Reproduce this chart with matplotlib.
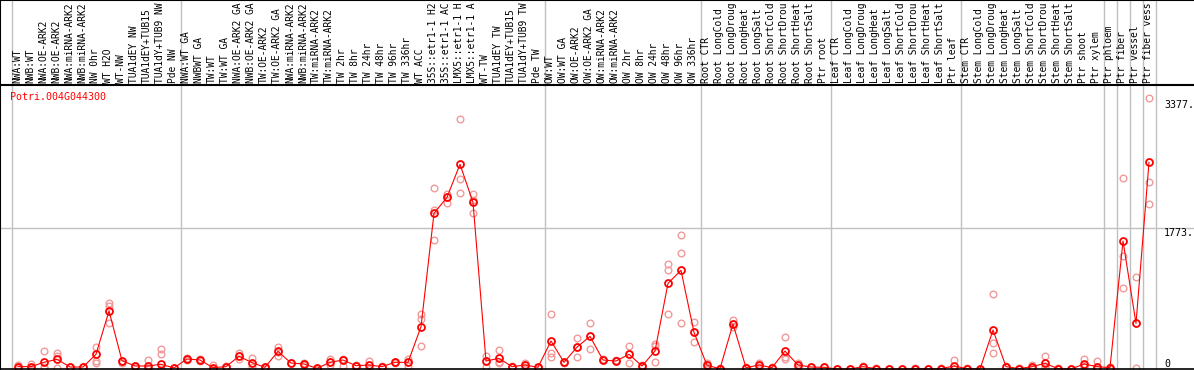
import matplotlib
matplotlib.use("Agg")
import matplotlib.pyplot as plt
import matplotlib.transforms as mtransforms

# categories (one per column), as far as they show in the label strip
labels = [
    "NWA:WT", "NWB:WT", "NWA:OE-ARK2", "NWB:OE-ARK2", "NWA:miRNA-ARK2", "NWB:miRNA-ARK2",
    "NW 0hr", "WT H2O", "WT-NW", "TUA1dEY NW", "TUA1dEY+TUB15", "TUA1dY+TUB9 NW", "Pde NW",
    "NWA:WT GA", "NWBWT GA", "TW:WT", "TW:WT GA", "NWA:OE-ARK2 GA", "NWB:OE-ARK2 GA",
    "TW:OE-ARK2", "TW:OE-ARK2 GA", "NWA:miRNA-ARK2", "NWB:miRNA-ARK2", "TW:miRNA-ARK2",
    "TW:miRNA-ARK2", "TW 2hr", "TW 8hr", "TW 24hr", "TW 48hr", "TW 96hr", "TW 336hr",
    "WT ACC", "35S::etr1-1 H2", "35S::etr1-1 AC", "LMX5::etr1-1 H", "LMX5::etr1-1 A",
    "WT-TW", "TUA1dEY TW", "TUA1dEY+TUB15", "TUA1dY+TUB9 TW", "Pde TW",
    "OW:WT", "OW:WT GA", "OW:OE-ARK2", "OW:OE-ARK2 GA", "OW:miRNA-ARK2", "OW:miRNA-ARK2",
    "OW 2hr", "OW 8hr", "OW 24hr", "OW 48hr", "OW 96hr", "OW 336hr",
    "Root CTR", "Root LongCold", "Root LongDroug", "Root LongHeat", "Root LongSalt",
    "Root ShortCold", "Root ShortDrou", "Root ShortHeat", "Root ShortSalt", "Ptr root",
    "Leaf CTR", "Leaf LongCold", "Leaf LongDroug", "Leaf LongHeat", "Leaf LongSalt",
    "Leaf ShortCold", "Leaf ShortDrou", "Leaf ShortHeat", "Leaf ShortSalt", "Ptr leaf",
    "Stem CTR", "Stem LongCold", "Stem LongDroug", "Stem LongHeat", "Stem LongSalt",
    "Stem ShortCold", "Stem ShortDrou", "Stem ShortHeat", "Stem ShortSalt", "Ptr shoot",
    "Ptr xylem", "Ptr phloem", "Ptr fiber", "Ptr vessel", "Ptr fiber vess",
]

# mean expression per column
means = [
    30, 30, 84, 122, 25, 25, 185, 730, 105, 38, 38, 59, 13,
    126, 113, 17, 30, 160, 80, 21, 222, 75, 63, 8, 84, 113, 42, 50, 30, 84, 84,
    532, 1958, 2159, 2574, 2096, 100, 134, 30, 50, 21,
    352, 84, 275, 410, 113, 100, 185, 38, 226, 1077, 1241, 461,
    46, 4, 566, 17, 50, 17, 226, 50, 25, 21,
    0, 0, 30, 4, 0, 0, 4, 0, 4, 38,
    4, 0, 490, 30, 4, 30, 71, 4, 0, 63,
    30, 17, 1609, 574, 2597,
]

# replicate values per column
replicates = [
    [55, 20, 15], [63, 20, 10], [222, 10, 20], [197, 10, 160], [25, 20, 30], [25, 20, 30],
    [273, 105, 80], [826, 792, 574], [105, 100, 70], [38, 30, 40], [113, 10, 0],
    [248, 185, 5], [13, 10, 15], [140, 120, 115], [125, 110, 100], [50, 5, 0],
    [30, 25, 35], [197, 160, 130], [134, 80, 30], [21, 15, 25], [273, 163, 220],
    [80, 70, 75], [63, 55, 70], [8, 5, 10], [122, 84, 50], [130, 113, 40], [42, 40, 45],
    [100, 50, 5], [30, 25, 35], [84, 80, 90], [122, 84, 40], [692, 625, 293],
    [2272, 1999, 1622], [2200, 2083, 2160], [3140, 2385, 2209], [2200, 2130, 1958],
    [163, 30, 100], [239, 80, 90], [30, 25, 35], [75, 50, 30], [21, 15, 25],
    [692, 155, 200], [84, 80, 90], [386, 155, 280], [574, 248, 410], [113, 110, 120],
    [110, 100, 95], [289, 71, 190], [38, 30, 45], [314, 290, 84], [1320, 1241, 692],
    [1681, 1454, 574], [587, 343, 460], [70, 46, 20], [4, 0, 8], [616, 566, 524],
    [17, 10, 25], [70, 50, 30], [17, 10, 20], [398, 147, 130], [80, 50, 20],
    [25, 20, 30], [21, 20, 25], [0, 0, 0], [0, 0, 0], [38, 30, 20], [4, 0, 8],
    [0, 0, 0], [0, 0, 0], [4, 0, 8], [0, 0, 0], [4, 0, 8], [113, 0, 5], [4, 0, 8],
    [0, 0, 0], [943, 323, 197], [38, 30, 20], [4, 0, 8], [50, 30, 10], [163, 38, 10],
    [4, 0, 8], [0, 0, 0], [122, 40, 30], [105, 0, 10], [30, 17, 5],
    [2398, 1421, 1015], [1153, 574, 8], [3404, 2347, 2071],
]

group_starts = [0, 13, 41, 53, 63, 73, 84, 85, 86, 87, 88]
grid_value = 1773
top_value = 3377
gene = "Potri.004G044300"

W, H = 1194, 370
x0, step = 18, 13          # pixel centre of first column, column width
plot_top = 85              # pixel row of the label/plot border
zero_px = 369
per_px = grid_value / 141.0

fig = plt.figure(figsize=(W / 100, H / 100), dpi=100)
xlim = (-x0 / step, (W - x0) / step)

# --- plot area ---
ax = fig.add_axes([0, 0, 1, (H - plot_top) / H])
ax.set_xlim(*xlim)
ax.set_ylim(-(H - zero_px) * per_px, (zero_px - plot_top) * per_px)
for s in ["top", "right", "bottom"]:
    ax.spines[s].set_visible(False)
ax.spines["left"].set_color("black")
ax.spines["left"].set_linewidth(1.5)
ax.set_xticks([])
ax.set_yticks([])

for g in group_starts:
    ax.axvline(g - 0.5, color="#c0c0c0", lw=1, zorder=1)
ax.axhline(grid_value, color="#c0c0c0", lw=1, zorder=1)
ax.axhline(0, color="black", lw=1.2, zorder=5)

xs = list(range(len(means)))
for i, reps in enumerate(replicates):
    ax.plot([i] * len(reps), reps, "o", ms=4.8, mfc="none", mec="#f09a9a",
            mew=1.0, zorder=2)
ax.plot(xs, means, "-", color="red", lw=0.8, zorder=3)
ax.plot(xs, means, "o", ms=5.0, mfc="none", mec="red", mew=1.3, zorder=4)

mono = "DejaVu Sans Mono"
ax.text(10 / W, 1 - 12 / (H - plot_top), gene, transform=ax.transAxes,
        color="red", family=mono, fontsize=7.2, va="center", ha="left")
xr = (1164 - x0) / step
ax.text(xr, top_value, "3377.", family=mono, fontsize=7.2, va="top", ha="left")
ax.text(xr, grid_value, "1773.", family=mono, fontsize=7.2, va="top", ha="left")
ax.text(xr, 0, "0", family=mono, fontsize=7.2, va="bottom", ha="left")

# --- label strip ---
lab = fig.add_axes([0, (H - plot_top) / H, 1, plot_top / H])
lab.set_xlim(*xlim)
lab.set_ylim(0, 1)
lab.set_xticks([])
lab.set_yticks([])
lab.spines["right"].set_visible(False)
for s in ["top", "bottom", "left"]:
    lab.spines[s].set_linewidth(1.5)
for g in group_starts:
    lab.axvline(g - 0.5, color="#c0c0c0", lw=1, zorder=1)
trans = mtransforms.blended_transform_factory(lab.transData, lab.transAxes)
for i, name in enumerate(labels):
    lab.text(i - 0.08, 2 / plot_top, name, rotation=90, ha="center", va="bottom",
             family=mono, fontsize=6.9, transform=trans)

fig.savefig("out.png", dpi=100)
